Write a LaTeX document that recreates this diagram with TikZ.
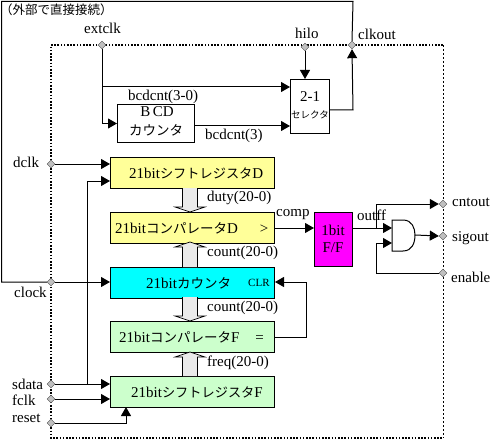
\documentclass[tikz,border=0pt]{standalone}
\usepackage{fontspec}
\setmainfont{Liberation Serif}
\newfontfamily\cjk{Noto Sans CJK JP}
\usetikzlibrary{arrows.meta,positioning,calc,shapes.geometric}
\definecolor{shiftyellow}{HTML}{FFFF99}
\definecolor{countcyan}{HTML}{00FFFF}
\definecolor{ffmagenta}{HTML}{FF00FF}
\definecolor{comparegreen}{HTML}{CCFFCC}
\definecolor{pingray}{HTML}{C0C0C0}
\definecolor{busgray}{HTML}{EAEAEA}
\begin{document}
\begin{tikzpicture}[
    x=1pt, y=-1pt,
    every node/.style={font=\fontsize{15}{16}\selectfont},
    kana/.style={font=\cjk\fontsize{13.5}{15}\selectfont},
    block/.style={rectangle, draw, line width=1pt, minimum width=164pt, minimum height=31pt, inner sep=0pt, fill=#1},
    smallblock/.style={rectangle, draw, line width=1pt, inner sep=0pt, align=center, fill=white},
    pin/.style={diamond, draw=black!70, fill=pingray, inner sep=0pt, minimum size=8pt},
    lbl/.style={inner sep=0pt, anchor=west},
    arrow/.style={-{Triangle[length=9pt,width=10pt]}, line width=1pt},
    wire/.style={line width=1pt},
    bus/.style={draw=black, fill=busgray, line width=0.7pt}
]
\useasboundingbox (0,0) rectangle (495,441);

% Boundary of the device
\draw[line width=1.6pt, dash pattern=on 1.6pt off 1.6pt] (443,45) -- (51,45) -- (51,438) -- (443,438);
\draw[line width=1pt, dash pattern=on 2pt off 2pt] (443,45) -- (443,438);

% Pins
\node[pin] (extclk) at (102,45) {};
\node[pin] (hilo) at (305,47) {};
\node[pin] (clkout) at (352,45) {};
\node[pin] (dclk) at (51,164) {};
\node[pin] (clock) at (51,282) {};
\node[pin] (sdata) at (51,384) {};
\node[pin] (fclk) at (51,399) {};
\node[pin] (reset) at (51,423) {};
\node[pin] (cntout) at (443,204) {};
\node[pin] (sigout) at (443,236) {};
\node[pin] (enable) at (443,273) {};

% Pin names
\node[lbl] at (84,28) {extclk};
\node[lbl] at (295,33) {hilo};
\node[lbl] at (358,34) {clkout};
\node[lbl] at (13,162) {dclk};
\node[lbl] at (14,292) {clock};
\node[lbl] at (12,384) {sdata};
\node[lbl] at (12,400) {fclk};
\node[lbl] at (12,418) {reset};
\node[lbl] at (452,202) {cntout};
\node[lbl] at (452,238) {sigout};
\node[lbl] at (451,277) {enable};
\node[lbl, font=\cjk\fontsize{12.5}{14}\selectfont] at (0,10) {（外部で直接接続）};

% Blocks
\node[block=shiftyellow, anchor=north west] (shiftd) at (110,157) {};
\node[lbl] at (129,173) {21bit{\cjk\fontsize{13.2}{15}\selectfont シフトレジスタ}D};
\node[block=shiftyellow, anchor=north west] (compd) at (110,212) {};
\node[lbl] at (115,228) {21bit{\cjk\fontsize{13.5}{15}\selectfont コンパレータ}D\hspace{22pt}>};
\node[block=countcyan, anchor=north west] (counter) at (110,267) {};
\node[lbl] at (146,283) {21bit{\cjk\fontsize{13.5}{15}\selectfont カウンタ}};
\node[lbl, font=\fontsize{11}{12}\selectfont] at (248,283) {CLR};
\node[block=comparegreen, anchor=north west] (compf) at (110,321) {};
\node[lbl] at (119,337) {21bit{\cjk\fontsize{13.5}{15}\selectfont コンパレータ}F\hspace{16pt}=};
\node[block=comparegreen, anchor=north west] (shiftf) at (110,376) {};
\node[lbl] at (131,392) {21bit{\cjk\fontsize{13.2}{15}\selectfont シフトレジスタ}F};
\node[smallblock, minimum width=77pt, minimum height=38pt, anchor=north west] (bcd) at (117,104) {};
\node at (157,112) {B\,CD};
\node[kana] at (156,130) {カウンタ};
\node[smallblock, minimum width=39pt, minimum height=54pt, anchor=north west] (sel) at (290,79) {};
\node at (310,97) {2-1};
\node[font=\cjk\fontsize{9.5}{10}\selectfont] at (310,115) {セレクタ};
\node[smallblock, minimum width=38pt, minimum height=54pt, anchor=north west, fill=ffmagenta] (ff) at (314,212) {};
\node at (333,230) {1bit};
\node at (333,248) {F/F};

% AND gate
\coordinate (andin1) at (392,228);
\coordinate (andin2) at (392,243);
\coordinate (andout) at (415,235);
\draw[fill=white, line width=1pt] (392,220) -- (403,220) .. controls (412,220) and (415,228) .. (415,235)
    .. controls (415,243) and (412,251) .. (403,251) -- (392,251) -- cycle;

% Wide buses
\foreach \xa/\ya/\yb in {190/188/212, 190/267/242, 190/297/321, 190/376/352} {
    \draw[bus] (\xa-7.5,\ya) -- (\xa-7.5,{\yb+(\ya<\yb ? -5 : 5)}) -- (\xa-15,{\yb+(\ya<\yb ? -5 : 5)})
        -- (\xa,\yb) -- (\xa+15,{\yb+(\ya<\yb ? -5 : 5)}) -- (\xa+7.5,{\yb+(\ya<\yb ? -5 : 5)}) -- (\xa+7.5,\ya);
}

% Bus names
\node[lbl] at (207,198) {duty(20-0)};
\node[lbl] at (207,253) {count(20-0)};
\node[lbl] at (207,308) {count(20-0)};
\node[lbl] at (207,363) {freq(20-0)};
\node[lbl] at (128,97) {bcdcnt(3-0)};
\node[lbl] at (205,136) {bcdcnt(3)};
\node[lbl] at (276,215) {comp};
\node[lbl] at (357,215) {outff};

% Connectors
\draw[wire] (clock.west) -- (1.5,282) -- (1.5,1.5) -- (353,1.5) -- (clkout.north);
\draw[arrow] (sel.east |- 0,110) -- (353,110) -- (clkout.south);
\draw[arrow] (hilo.south) -- (sel.north -| hilo);
\draw[arrow] (extclk.south) |- (bcd.west);
\draw[arrow] (extclk.south) |- (sel.west |- 0,87);
\draw[arrow] (bcd.east |- 0,126) -- (sel.west |- 0,126);
\draw[arrow] (dclk.east) -- (shiftd.west |- 0,164);
\draw[arrow] (clock.east) -- (counter.west |- 0,282);
\draw[arrow] (sdata.east) -- (shiftf.west |- 0,384);
\draw[arrow] (fclk.east) -- (shiftf.west |- 0,399);
\draw[arrow] (reset.east) -| (126,407);
\draw[arrow] (87,384) -- (87,181) -- (shiftd.west |- 0,181);
\draw[arrow] (compf.east |- 0,337) -- (306,337) -- (306,282) -- (counter.east |- 0,282);
\draw[arrow] (compd.east |- 0,228) -- (ff.west |- 0,228);
\draw[arrow] (ff.east |- 0,228) -- (andin1);
\draw[arrow] (376,228) -- (376,204) -- (cntout.west);
\draw[arrow] (andout) -- (sigout.west);
\draw[arrow] (enable.west) -- (376,273) -- (376,243) -- (andin2);

\end{tikzpicture}
\end{document}
